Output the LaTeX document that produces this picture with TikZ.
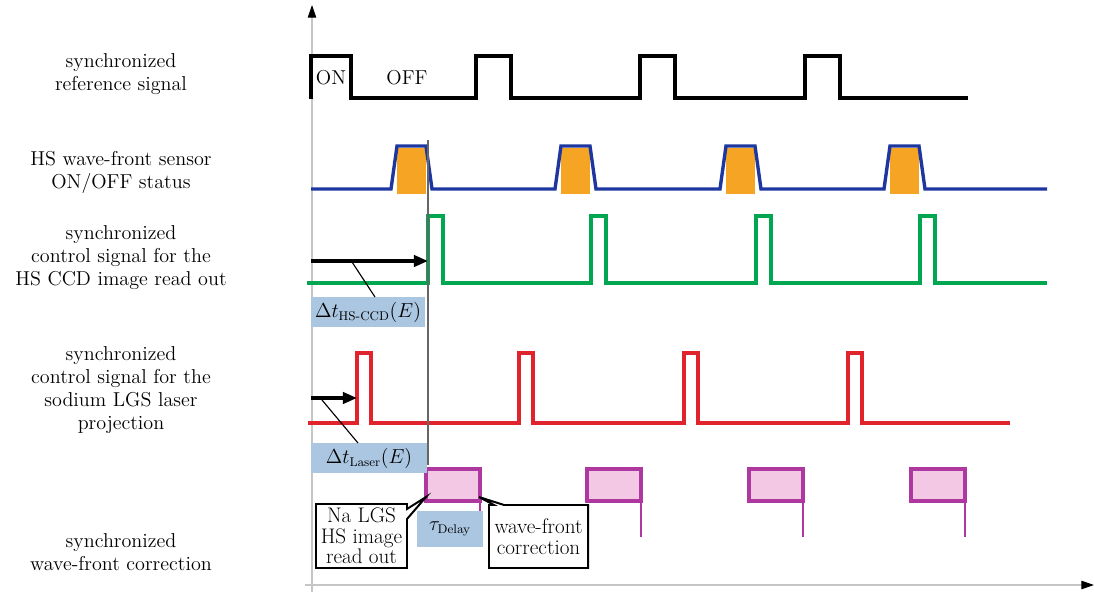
\documentclass[tikz,border=0pt]{standalone}
\usepackage{amsmath}
\usepackage{xcolor}
\usepackage{tikz}
\usetikzlibrary{arrows.meta, shapes.callouts}
\definecolor{sigblue}{RGB}{30,55,160}
\definecolor{sigorange}{RGB}{245,165,35}
\definecolor{siggreen}{RGB}{0,166,80}
\definecolor{sigred}{RGB}{225,35,45}
\definecolor{sigmagenta}{RGB}{175,55,160}
\definecolor{sigpink}{RGB}{243,200,228}
\definecolor{tagblue}{RGB}{170,198,225}
\tikzset{
  sig/.style={line width=2.4pt, line join=miter},
  lab/.style={align=center, font=\fontsize{14.3}{16.4}\selectfont},
  tag/.style={fill=tagblue, inner sep=0pt, font=\fontsize{13.5}{16}\selectfont},
  note/.style={
    rectangle callout, draw, line width=1.4pt, fill=white,
    align=center, inner sep=1pt, font=\fontsize{15}{14.6}\selectfont
  },
  axis/.style={draw=gray!45, line width=0.8pt},
  delay/.style={-{Triangle[length=10pt,width=8pt]}, line width=2.4pt},
}

\begin{document}
\begin{tikzpicture}[x=0.025cm, y=-0.025cm]
  \useasboundingbox (0,0) rectangle (1094,592);

  % axes
  \coordinate (o) at (312,585);
  \coordinate (ytop) at (312,5);
  \coordinate (xend) at (1094,585);
  \draw[axis, -{Triangle[length=9pt,width=6pt,color=black]}] (312,592) -- (ytop);
  \draw[axis, -{Triangle[length=9pt,width=6pt,color=black]}] (305,585) -- (xend);

  % row labels
  \node[lab] (refl) at (121,74) {synchronized\\reference signal};
  \node[lab] (hsl) at (121,172) {HS wave-front sensor\\ON/OFF status};
  \node[lab] (ccdl) at (121,258) {synchronized\\control signal for the\\HS CCD image read out};
  \node[lab] (lasl) at (121,390) {synchronized\\control signal for the\\sodium LGS laser\\projection};
  \node[lab] (wfl) at (121,552) {synchronized\\wave-front correction};

  % reference signal
  \draw[sig, black] (311,99) -- (311,56) -- (351,56) -- (351,98)
    foreach \x in {476,640,805} { -- (\x,98) -- (\x,56) -- (\x+35,56) -- (\x+35,98) }
    -- (968,98);
  \node[lab] (on) at (331,78) {ON};
  \node[lab] (off) at (407,78) {OFF};

  % HS sensor status
  \foreach \x in {391,555,720,884}
    \fill[sigorange] (\x+6,148) rectangle (\x+35,194);
  \draw[sig, sigblue] (311,189)
    foreach \x in {391,555,720,884} { -- (\x,189) -- (\x+6,146) -- (\x+35,146) -- (\x+41,189) }
    -- (1047,189);

  % HS CCD read out
  \draw[sig, siggreen] (307,283)
    foreach \x in {428,591,756,920} { -- (\x,283) -- (\x,216) -- (\x+15,216) -- (\x+15,283) }
    -- (1047,283);

  % laser projection
  \draw[sig, sigred] (308,423)
    foreach \x in {357,519,684,848} { -- (\x,423) -- (\x,353) -- (\x+14,353) -- (\x+14,423) }
    -- (1010,423);

  % wave-front correction
  \foreach \x/\y in {426/512,587/537,749/537,911/537} {
    \draw[sigmagenta, line width=1.4pt] (\x+54,501) -- (\x+54,\y);
    \draw[sigmagenta, line width=2.2pt, fill=sigpink] (\x,469) rectangle (\x+54,501);
  }

  % delays
  \node[tag, minimum width=2.85cm, minimum height=0.75cm] (ccdtag) at (368,312)
    {$\Delta t_{\mathrm{HS\text{-}CCD}}(E)$};
  \node[tag, minimum width=2.9cm, minimum height=0.75cm] (lastag) at (369,458)
    {$\Delta t_{\mathrm{Laser}}(E)$};
  \node[tag, minimum width=1.625cm, minimum height=0.875cm] (tautag) at (450,529)
    {$\tau_{\mathrm{Delay}}$};

  \coordinate (ccdA) at (311,261);
  \coordinate (ccdB) at (428,261);
  \coordinate (lasA) at (311,398);
  \coordinate (lasB) at (357,398);
  \draw[delay] (ccdA) -- (ccdB);
  \draw[delay] (lasA) -- (lasB);
  \coordinate (ccdlead) at (352,262);
  \coordinate (ccdfoot) at (375,297);
  \coordinate (laslead) at (322,400);
  \coordinate (lasfoot) at (358,443);
  \draw[thick] (ccdlead) -- (ccdfoot);
  \draw[thick] (laslead) -- (lasfoot);

  \draw[gray!80!black, thick] (428,140) -- (428,465);

  % callouts
  \coordinate (natip) at (426,497);
  \coordinate (wftip) at (479,497);
  \node[note, minimum width=2.275cm, minimum height=1.6cm,
        callout absolute pointer={(natip)}] (na) at (361.5,536)
    {Na LGS\\HS image\\read out};
  \node[note, minimum width=2.475cm, minimum height=1.575cm,
        callout absolute pointer={(wftip)}] (wf) at (538.5,536.5)
    {wave-front\\correction};
\end{tikzpicture}
\end{document}
